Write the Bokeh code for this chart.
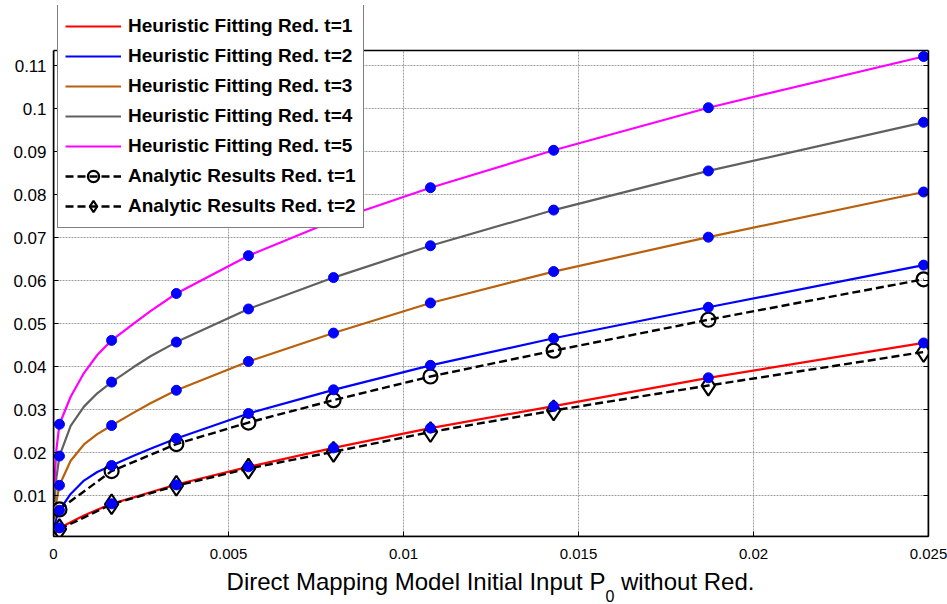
from bokeh.plotting import figure
from bokeh.models import (Range1d, FixedTicker, NumeralTickFormatter, Legend, LegendItem,
                          BoxAnnotation, Div, LinearAxis, CustomJSTickFormatter)
from bokeh.layouts import column
from bokeh.embed import file_html
from bokeh.resources import INLINE

# ---------------- data ----------------
# marker abscissae
x_pts = [0.00017, 0.00166, 0.00351, 0.00557, 0.0080, 0.01077, 0.01429, 0.01871, 0.02486]

# heuristic fitting values at the markers
heur_t1 = [0.0025, 0.0081, 0.0125, 0.0167, 0.0211, 0.0257, 0.0308, 0.0374, 0.0455]
heur_t2 = [0.0066, 0.0170, 0.0233, 0.0291, 0.0346, 0.0403, 0.0466, 0.0538, 0.0636]
heur_t3 = [0.0124, 0.0263, 0.0345, 0.0412, 0.0478, 0.0548, 0.0621, 0.0701, 0.0806]
heur_t4 = [0.0192, 0.0364, 0.0457, 0.0534, 0.0607, 0.0681, 0.0764, 0.0855, 0.0968]
heur_t5 = [0.0266, 0.0461, 0.0570, 0.0658, 0.0739, 0.0816, 0.0903, 0.1002, 0.1121]

# analytic results
anal_t1 = [0.0068, 0.0157, 0.0220, 0.0270, 0.0322, 0.0377, 0.0437, 0.0509, 0.0603]
anal_t2 = [0.0022, 0.0080, 0.0123, 0.0163, 0.0202, 0.0248, 0.0298, 0.0356, 0.0434]

# heuristic fitting curves (denser near zero)
x_curve = [0.00003, 0.00008, 0.00017, 0.00049, 0.00087, 0.00125, 0.00166, 0.00229,
           0.00277, 0.00351, 0.00557, 0.0080, 0.01077, 0.01429, 0.01871, 0.02486, 0.025]
curve_t1 = [0.0010, 0.0016, 0.0025, 0.0038, 0.0054, 0.0067, 0.0081, 0.0096, 0.0108,
            0.0126, 0.0167, 0.0211, 0.0257, 0.0308, 0.0374, 0.0455, 0.0456]
curve_t2 = [0.0030, 0.0047, 0.0066, 0.0104, 0.0135, 0.0155, 0.0170, 0.0193, 0.0209,
            0.0233, 0.0291, 0.0346, 0.0403, 0.0466, 0.0538, 0.0636, 0.0638]
curve_t3 = [0.0045, 0.0085, 0.0124, 0.0181, 0.0219, 0.0243, 0.0263, 0.0293, 0.0315,
            0.0345, 0.0412, 0.0478, 0.0548, 0.0621, 0.0701, 0.0806, 0.0808]
curve_t4 = [0.0085, 0.0140, 0.0192, 0.0262, 0.0307, 0.0338, 0.0364, 0.0399, 0.0424,
            0.0457, 0.0534, 0.0607, 0.0681, 0.0764, 0.0855, 0.0968, 0.0970]
curve_t5 = [0.0131, 0.0205, 0.0266, 0.0330, 0.0385, 0.0427, 0.0461, 0.0500, 0.0529,
            0.0570, 0.0658, 0.0739, 0.0816, 0.0903, 0.1002, 0.1121, 0.1123]

x_ticks = [0, 0.005, 0.01, 0.015, 0.02, 0.025]
y_ticks = [0.01, 0.02, 0.03, 0.04, 0.05, 0.06, 0.07, 0.08, 0.09, 0.10, 0.11]

heur_labels = ["Heuristic Fitting Red. t=1", "Heuristic Fitting Red. t=2",
               "Heuristic Fitting Red. t=3", "Heuristic Fitting Red. t=4",
               "Heuristic Fitting Red. t=5"]
anal_labels = ["Analytic Results Red. t=1", "Analytic Results Red. t=2"]
x_label_main = "Direct Mapping Model Initial Input P"
x_label_sub = "0"
x_label_tail = " without Red."

# ---------------- figure ----------------
FONT = "'Liberation Sans', Arial, sans-serif"
XMIN, XMAX = 0.0, 0.025
YMIN, YTOP = 0.0005, 0.1135          # visible axes box
BOX_TOP_PX, FRAME_TOP_PX, FRAME_BOTTOM_PX = 50, 5, 536
units_per_px = (YTOP - YMIN) / (FRAME_BOTTOM_PX - BOX_TOP_PX)
YRANGE_TOP = YMIN + (FRAME_BOTTOM_PX - FRAME_TOP_PX) * units_per_px

FIG_H = 568
p = figure(width=947, height=FIG_H, output_backend="svg", toolbar_location=None,
           x_range=Range1d(XMIN, XMAX), y_range=Range1d(YMIN, YRANGE_TOP),
           min_border_left=53, min_border_right=19, min_border_top=FRAME_TOP_PX,
           min_border_bottom=FIG_H - FRAME_BOTTOM_PX)
p.background_fill_color = "white"
p.border_fill_color = "white"
p.outline_line_color = None

# right-hand box edge with inward ticks, no labels
right_axis = LinearAxis(ticker=FixedTicker(ticks=y_ticks),
                        formatter=CustomJSTickFormatter(code="return ''"))
p.add_layout(right_axis, "right")

for ax in (p.xaxis[0], p.yaxis[0], right_axis):
    ax.axis_line_color = "black"
    ax.axis_line_width = 1.5
    ax.major_tick_in = 5
    ax.major_tick_out = 0
    ax.minor_tick_in = 0
    ax.minor_tick_out = 0
    ax.major_tick_line_color = "black"
    ax.major_label_text_font = FONT
    ax.major_label_text_color = "black"
p.yaxis[0].bounds = (YMIN, YTOP)
right_axis.bounds = (YMIN, YTOP)
right_axis.major_label_standoff = 0

p.xaxis.ticker = FixedTicker(ticks=x_ticks)
p.yaxis[0].ticker = FixedTicker(ticks=y_ticks)
p.xaxis.formatter = NumeralTickFormatter(format="0.[000]")
p.yaxis[0].formatter = NumeralTickFormatter(format="0.[00]")
p.xaxis.major_label_text_font_size = "15px"
p.yaxis[0].major_label_text_font_size = "17px"
p.xaxis.major_label_standoff = 12
p.yaxis[0].major_label_standoff = 7

for g in (p.xgrid[0], p.ygrid[0]):
    g.grid_line_color = "#777777"
    g.grid_line_alpha = 0.7
    g.grid_line_dash = "2 1"
    g.grid_line_width = 1

colors = ["#ff0000", "#0000ff", "#b8600c", "#606060", "#ff00ff"]
curves = [curve_t1, curve_t2, curve_t3, curve_t4, curve_t5]
heur = [heur_t1, heur_t2, heur_t3, heur_t4, heur_t5]

items = []
for c, yv, lab in zip(colors, curves, heur_labels):
    r = p.line(x_curve, yv, line_color=c, line_width=2.2)
    items.append(LegendItem(label=lab, renderers=[r]))

# analytic results
l1 = p.line(x_pts, anal_t1, line_color="black", line_width=2.4, line_dash="8 4")
m1 = p.scatter(x_pts, anal_t1, marker="circle", size=14, line_color="black",
               line_width=2.2, fill_color=None)
l2 = p.line(x_pts, anal_t2, line_color="black", line_width=2.4, line_dash="8 4")
m2 = p.scatter(x_pts, anal_t2, marker="diamond", size=20, line_color="black",
               line_width=2.2, fill_color=None)
items.append(LegendItem(label=anal_labels[0], renderers=[l1, m1]))
items.append(LegendItem(label=anal_labels[1], renderers=[l2, m2]))

# blue markers on the heuristic curves
for yv in heur:
    p.scatter(x_pts, yv, marker="circle", size=10, fill_color="#0000ff",
              line_color="#0000ff", line_width=1)

# white area above the axes box (frame extends up so the legend is not clipped)
p.add_layout(BoxAnnotation(left=XMIN, right=XMAX, bottom=YTOP, top=YRANGE_TOP,
                           fill_color="white", fill_alpha=1, line_color=None))
# axes box
p.add_layout(BoxAnnotation(left=XMIN, right=XMAX, bottom=YMIN, top=YTOP,
                           fill_color=None, fill_alpha=0, line_color="black",
                           line_width=1.6, line_alpha=1))

legend = Legend(items=items, location=(4, 308))
legend.label_text_font = FONT
legend.label_text_font_style = "bold"
legend.label_text_font_size = "19px"
legend.label_text_color = "black"
legend.border_line_color = "black"
legend.border_line_width = 1.2
legend.background_fill_color = "white"
legend.background_fill_alpha = 1
legend.padding = 7
legend.spacing = 2
legend.label_height = 28
legend.glyph_height = 28
legend.glyph_width = 56
legend.label_standoff = 7
legend.margin = 0
p.add_layout(legend, "center")

# x axis label with a subscript, below the figure
label_html = (x_label_main
              + '<span style="font-size:16px;position:relative;top:12px;">'
              + x_label_sub + "</span>" + x_label_tail)
div = Div(text=label_html, width=875, height=604 - FIG_H, margin=(0, 0, 0, 53),
          styles={"font-family": FONT, "font-size": "24px", "line-height": "24px",
                  "text-align": "center", "color": "black", "padding-top": "2px",
                  "white-space": "nowrap"})

layout = column(p, div, spacing=0)
open("out.html", "w").write(file_html(layout, INLINE))
